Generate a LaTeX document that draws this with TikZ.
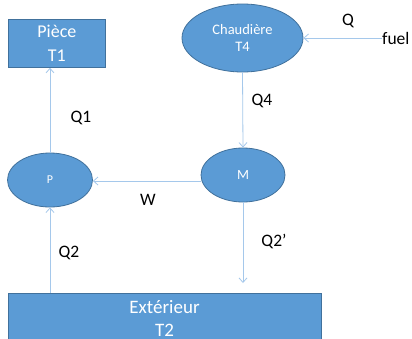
\documentclass[tikz,border=0pt]{standalone}
\usepackage{fontspec}
\setmainfont{Carlito}
\usetikzlibrary{arrows.meta,shapes.geometric}
\definecolor{boxfill}{HTML}{5B9BD5}
\definecolor{boxline}{HTML}{41719C}
\definecolor{flow}{HTML}{A5C8EB}
\tikzset{
  blob/.style={ellipse, fill=boxfill, draw=boxline, line width=0.8pt, text=white, inner sep=0pt, align=center},
  slab/.style={rectangle, fill=boxfill, draw=boxline, line width=0.8pt, text=white, inner sep=0pt, align=center, anchor=north west},
  flowline/.style={draw=flow, line width=0.8pt, -{Straight Barb[length=4.5pt,width=8pt,line width=0.8pt]}},
  lbl/.style={font=\fontsize{17.5}{20}\selectfont, text=black, inner sep=0pt}
}
\begin{document}
\begin{tikzpicture}[x=1pt,y=-1pt]
\useasboundingbox (0,0) rectangle (412,338);
\clip (0,0) rectangle (412,338);
\fill[white] (0,0) rectangle (412,338);
% nodes
\node[slab, minimum width=97pt, minimum height=48pt, font=\fontsize{18}{24}\selectfont] (piece) at (8,19) {Pièce\\T1};
\node[blob, minimum width=121pt, minimum height=68pt, font=\fontsize{14.5}{17}\selectfont] (chaud) at (242.5,38) {Chaudière\\T4};
\node[blob, minimum width=85pt, minimum height=54pt, font=\fontsize{12}{13}\selectfont] (p) at (50,180) {P};
\node[blob, minimum width=84pt, minimum height=54pt, font=\fontsize{14}{15}\selectfont] (m) at (243,175) {M};
\node[slab, minimum width=313pt, minimum height=60pt] (ext) at (8,293) {};
\node[font=\fontsize{19}{23}\selectfont, text=white, align=center, inner sep=0pt] (exttext) at (164.5,318.5) {Extérieur\\T2};
\node[lbl, anchor=west] (fuel) at (382,38) {fuel};
\coordinate (q2end) at (243,283);
% connectors
\draw[flowline] (fuel.west) -- (chaud.east);
\draw[flowline] (chaud.south) -- (m.north);
\draw[flowline] (m.west |- 0,181) -- (p.east |- 0,181);
\draw[flowline] (p.north) -- (piece.south -| p.north);
\draw[flowline] (ext.north -| p.south) -- (p.south);
\draw[flowline] (m.south) -- (q2end);
% labels
\node[lbl] (lq) at (348,21) {Q};
\node[lbl] (lq4) at (262,101) {Q4};
\node[lbl] (lq1) at (81,118) {Q1};
\node[lbl] (lw) at (148,200) {W};
\node[lbl] (lq2) at (69,253) {Q2};
\node[lbl] (lq2p) at (274,241) {Q2’};
\end{tikzpicture}
\end{document}
